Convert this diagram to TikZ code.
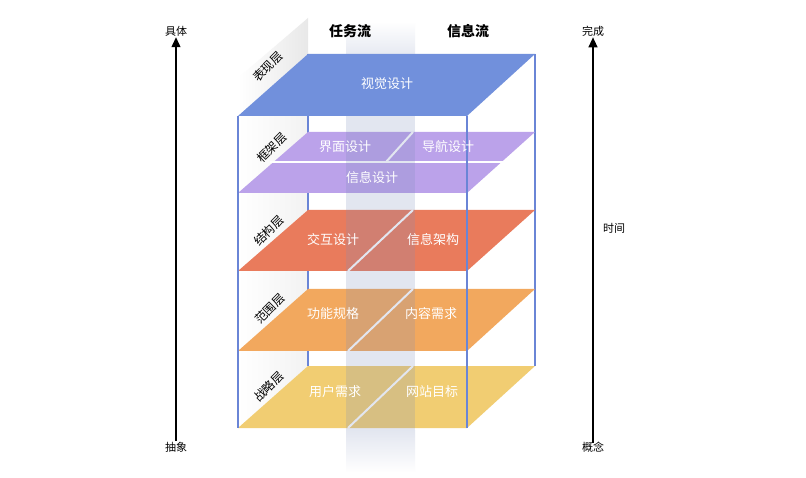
\documentclass[tikz,border=0pt]{standalone}
\usepackage{fontspec}
\setmainfont{Noto Sans CJK SC}
\usetikzlibrary{arrows.meta}

\definecolor{boxline}{HTML}{6A85D6}
\definecolor{shijuecol}{HTML}{7190DC}
\definecolor{kuangjiacol}{HTML}{BBA2EA}
\definecolor{jiegoucol}{HTML}{E97B5C}
\definecolor{fanweicol}{HTML}{F2A85E}
\definecolor{zhanluecol}{HTML}{F1CD72}
\definecolor{bandcol}{HTML}{7F8FBC}

\tikzset{
  sidelabel/.style={font=\fontsize{11}{13}\selectfont, inner sep=1pt},
  flowlabel/.style={font=\fontsize{14}{16}\selectfont\bfseries},
  slabtext/.style={font=\fontsize{13}{15}\selectfont, text=white},
  layername/.style={font=\fontsize{12}{14}\selectfont, rotate=45, inner sep=0pt},
  boxedge/.style={draw=boxline, line width=1.3pt},
  divider/.style={draw=white, line width=2pt},
  timearrow/.style={-{Triangle[length=10pt,width=9pt]}, line width=1.3pt},
}

\begin{document}
\begin{tikzpicture}[x=1pt,y=-1pt]
\useasboundingbox (0,0) rectangle (806,478);
\fill[white] (0,0) rectangle (806,478);

% left wall of the box
\shade[left color=white, right color=gray!18] (238,116) -- (238,78) -- (308,18) -- (308,54) -- cycle;
\shade[left color=white, right color=gray!10] (238,428) -- (238,116) -- (308,54) -- (308,366) -- cycle;

% back edges
\draw[boxedge] (308,54) -- (308,366);
\draw[boxedge] (535,54) -- (535,366);

% layers
\fill[kuangjiacol] (238,193) -- (467,193) -- (535,132) -- (308,132) -- cycle;
\draw[divider] (270,162) -- (505,162);
\draw[divider] (413,132) -- (386,162);

\fill[jiegoucol] (238,271) -- (467,271) -- (535,210) -- (308,210) -- cycle;
\draw[divider] (413,210) -- (348,271);

\fill[fanweicol] (238,351) -- (467,351) -- (535,289) -- (308,289) -- cycle;
\draw[divider] (413,289) -- (348,351);

\fill[zhanluecol] (238,428) -- (467,428) -- (535,366) -- (308,366) -- cycle;
\draw[divider] (413,366) -- (348,428);

% task flow band
\shade[top color=white, bottom color=bandcol, opacity=0.22] (346,22) rectangle (415,60);
\fill[bandcol, opacity=0.22] (346,60) rectangle (415,430);
\shade[top color=bandcol, bottom color=white, opacity=0.22] (346,430) rectangle (415,472);

\fill[shijuecol] (238,116) -- (467,116) -- (535,54) -- (308,54) -- cycle;

% front edges
\draw[boxedge] (238,116) -- (238,428);
\draw[boxedge] (467,116) -- (467,428);

% texts
\node[flowlabel] (renwu) at (350,31) {任务流};
\node[flowlabel] (xinxi) at (468,31) {信息流};

\node[slabtext] (shijue) at (387,84) {视觉设计};
\node[slabtext] (jiemian) at (345,147) {界面设计};
\node[slabtext] (daohang) at (448,147) {导航设计};
\node[slabtext] (xinxisheji) at (372,178) {信息设计};
\node[slabtext] (jiaohu) at (333,240) {交互设计};
\node[slabtext] (jiagou) at (433,240) {信息架构};
\node[slabtext] (gongneng) at (333,314) {功能规格};
\node[slabtext] (neirong) at (431,314) {内容需求};
\node[slabtext] (yonghu) at (335,392) {用户需求};
\node[slabtext] (wangzhan) at (432,392) {网站目标};

\node[layername] (biaoxian) at (268,67) {表现层};
\node[layername] (kuangjia) at (272,148) {框架层};
\node[layername] (jiegou) at (269,231) {结构层};
\node[layername] (fanwei) at (270,309) {范围层};
\node[layername] (zhanlue) at (269,387) {战略层};

% arrows
\node[sidelabel] (juti) at (176,31) {具体};
\node[sidelabel] (chouxiang) at (176,447) {抽象};
\draw[timearrow] (chouxiang) -- (juti);

\node[sidelabel] (wancheng) at (593,31) {完成};
\node[sidelabel] (gainian) at (593,447) {概念};
\node[sidelabel] (shijian) at (614,228) {时间};
\draw[timearrow, shorten <=-2pt] (gainian) -- (wancheng);
\end{tikzpicture}
\end{document}
